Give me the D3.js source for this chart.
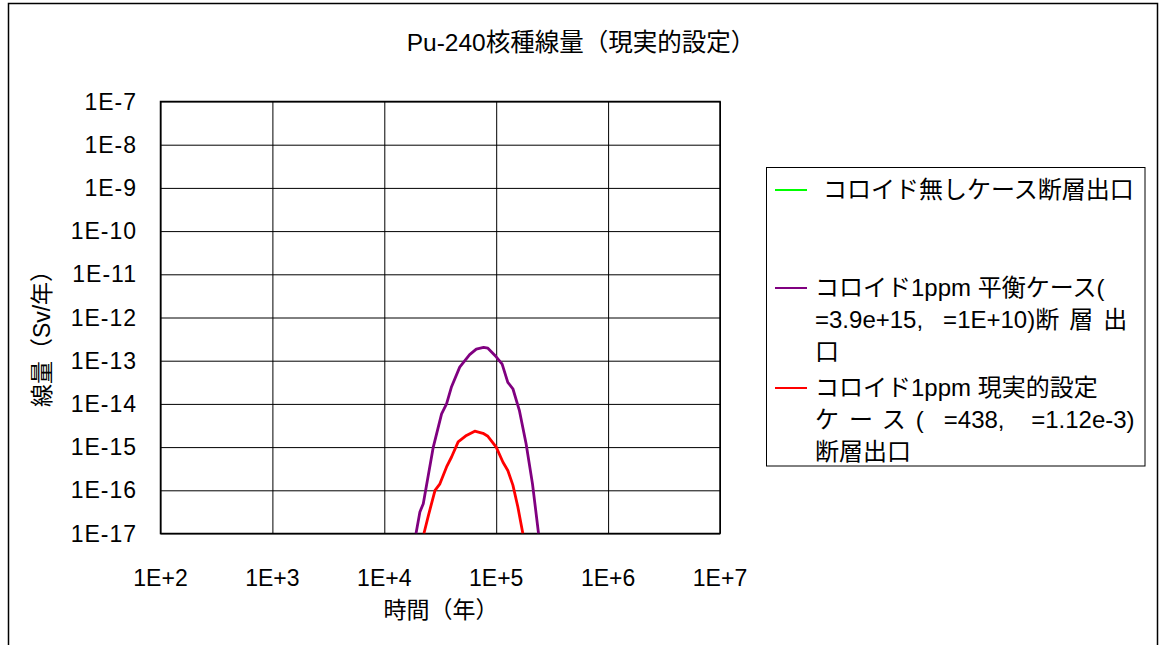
<!DOCTYPE html>
<html><head><meta charset="utf-8">
<script src="https://cdn.jsdelivr.net/npm/d3@7"></script>
<style>
html,body{margin:0;padding:0;background:#fff;}
text{font-family:"Liberation Sans","Noto Sans CJK JP",sans-serif;fill:#000;}
</style></head>
<body><svg id="c" width="1159" height="645"></svg>
<script>
// ---- data ----
const title = "Pu-240核種線量（現実的設定）";
const xTitle = "時間（年）";
const yTitle = "線量（Sv/年）";
const xTicks = [1e2, 1e3, 1e4, 1e5, 1e6, 1e7];
const xTickLabels = ["1E+2","1E+3","1E+4","1E+5","1E+6","1E+7"];
const yTicks = [1e-7,1e-8,1e-9,1e-10,1e-11,1e-12,1e-13,1e-14,1e-15,1e-16,1e-17];
const yTickLabels = ["1E-7","1E-8","1E-9","1E-10","1E-11","1E-12","1E-13","1E-14","1E-15","1E-16","1E-17"];

const seriesNames = ["コロイド無しケース断層出口",
  "コロイド1ppm 平衡ケース( =3.9e+15, =1E+10)断層出口",
  "コロイド1ppm 現実的設定ケース( =438, =1.12e-3)断層出口"];
const seriesColors = ["#00FF00", "#800080", "#FF0000"];
// legend text lines (as wrapped in the chart)
const legendLines = [
  ["コロイド無しケース断層出口"],
  ["コロイド1ppm 平衡ケース(", "=3.9e+15,\u00a0\u00a0\u00a0=1E+10)|断層出", "口"],
  ["コロイド1ppm 現実的設定", "ケース|(\u00a0\u00a0\u00a0=438,\u00a0\u00a0\u00a0\u00a0=1.12e-3)", "断層出口"]
];

// green: no visible values within range
const greenTime = [];
const greenDose = [];
const purpleTime = [1.92e4,2.08e4,2.23e4,2.74e4,3.25e4,3.60e4,3.99e4,4.72e4,5.79e4,6.64e4,7.71e4,8.43e4,1.0e5,1.13e5,1.27e5,1.41e5,1.61e5,1.85e5,2.11e5,2.39e5];
const purpleDose = [1e-17,3.16e-17,4.9e-17,1e-15,5.9e-15,1e-14,2.5e-14,7.1e-14,1.38e-13,1.86e-13,2.04e-13,1.95e-13,1.23e-13,8.3e-14,3.16e-14,2.24e-14,7.1e-15,1.2e-15,1.41e-16,1e-17];
const redTime = [2.26e4,2.48e4,2.84e4,3.14e4,3.60e4,3.99e4,4.57e4,5.42e4,6.43e4,7.62e4,8.43e4,1.0e5,1.15e5,1.27e5,1.41e5,1.56e5,1.73e5];
const redDose = [1e-17,2.63e-17,1e-16,1.41e-16,3.47e-16,5.9e-16,1.32e-15,1.86e-15,2.34e-15,2.09e-15,1.78e-15,1e-15,4.47e-16,2.88e-16,1.32e-16,4.17e-17,1e-17];

// ---- drawing ----
const svg = d3.select("#c");
const L = 160.5, R = 720, T = 101.5, B = 533.5;
const x = d3.scaleLog().domain([1e2, 1e7]).range([L, R]);
const y = d3.scaleLog().domain([1e-17, 1e-7]).range([B, T]);

// outer frame (open at bottom)
svg.append("path").attr("d", `M8.5,645 V3.5 H1157.5 V645`)
  .attr("fill","none").attr("stroke","#000").attr("stroke-width",1.5);

// title
svg.append("text").attr("x",581).attr("y",42).attr("dy","0.35em").attr("text-anchor","middle")
  .attr("font-size",24.5).text(title);

// gridlines via axes
svg.append("g").attr("transform",`translate(0,${B})`)
  .call(d3.axisBottom(x).tickValues(xTicks).tickSize(-(B-T)).tickFormat(""))
  .call(g=>g.select(".domain").remove())
  .call(g=>g.selectAll("line").attr("stroke","#000").attr("stroke-width",1));
svg.append("g").attr("transform",`translate(${L},0)`)
  .call(d3.axisLeft(y).tickValues(yTicks).tickSize(-(R-L)).tickFormat(""))
  .call(g=>g.select(".domain").remove())
  .call(g=>g.selectAll("line").attr("stroke","#000").attr("stroke-width",1));

// plot border
svg.append("rect").attr("x",L).attr("y",T).attr("width",R-L).attr("height",B-T)
  .attr("fill","none").attr("stroke","#000").attr("stroke-width",1.5);

// tick labels
svg.append("g").selectAll("text").data(yTicks).join("text")
  .attr("x",137).attr("y",d=>y(d)).attr("dy","0.35em").attr("text-anchor","end")
  .attr("font-size",23).attr("letter-spacing",1).text((d,i)=>yTickLabels[i]);
svg.append("g").selectAll("text").data(xTicks).join("text")
  .attr("x",d=>x(d)).attr("y",578).attr("dy","0.35em").attr("text-anchor","middle")
  .attr("font-size",23).text((d,i)=>xTickLabels[i]);

// axis titles
svg.append("text").attr("x",441).attr("y",610).attr("dy","0.35em").attr("text-anchor","middle")
  .attr("font-size",23).text(xTitle);
svg.append("text").attr("transform","translate(42,333) rotate(-90)").attr("dy","0.35em")
  .attr("text-anchor","middle").attr("font-size",23).text(yTitle);

// curves
svg.append("clipPath").attr("id","clip").append("rect")
  .attr("x",L).attr("y",T).attr("width",R-L).attr("height",B-T);
const line = d3.line().x(d=>x(d[0])).y(d=>y(d[1]));
const series = [
  d3.zip(greenTime, greenDose),
  d3.zip(purpleTime, purpleDose),
  d3.zip(redTime, redDose)
];
svg.append("g").attr("clip-path","url(#clip)").selectAll("path").data(series).join("path")
  .attr("d", d=>d.length ? line(d) : null)
  .attr("fill","none").attr("stroke",(d,i)=>seriesColors[i]).attr("stroke-width",2.8)
  .attr("stroke-linejoin","round");

// legend
const lg = svg.append("g");
lg.append("rect").attr("x",766.5).attr("y",167.5).attr("width",378.5).attr("height",298.5)
  .attr("fill","#fff").attr("stroke","#000").attr("stroke-width",1);
const legY = [190, 288, 388];
const legTextX = [823, 815, 815];
// segments separated by "|" ; CJK segments of the justified lines are spread out
const spreadSeg = {"1-1":1, "2-1":0};
legendLines.forEach((lines,i)=>{
  lg.append("line").attr("x1",775).attr("x2",807).attr("y1",legY[i]).attr("y2",legY[i])
    .attr("stroke",seriesColors[i]).attr("stroke-width",2);
  lines.forEach((t,j)=>{
    const tx = lg.append("text").attr("x",legTextX[i]).attr("y",legY[i]+j*32).attr("dy","0.35em")
      .attr("font-size",24);
    t.split("|").forEach((seg,k)=>{
      tx.append("tspan").attr("letter-spacing", spreadSeg[`${i}-${j}`]===k ? 10 : 0).text(seg);
    });
  });
});
</script></body></html>
